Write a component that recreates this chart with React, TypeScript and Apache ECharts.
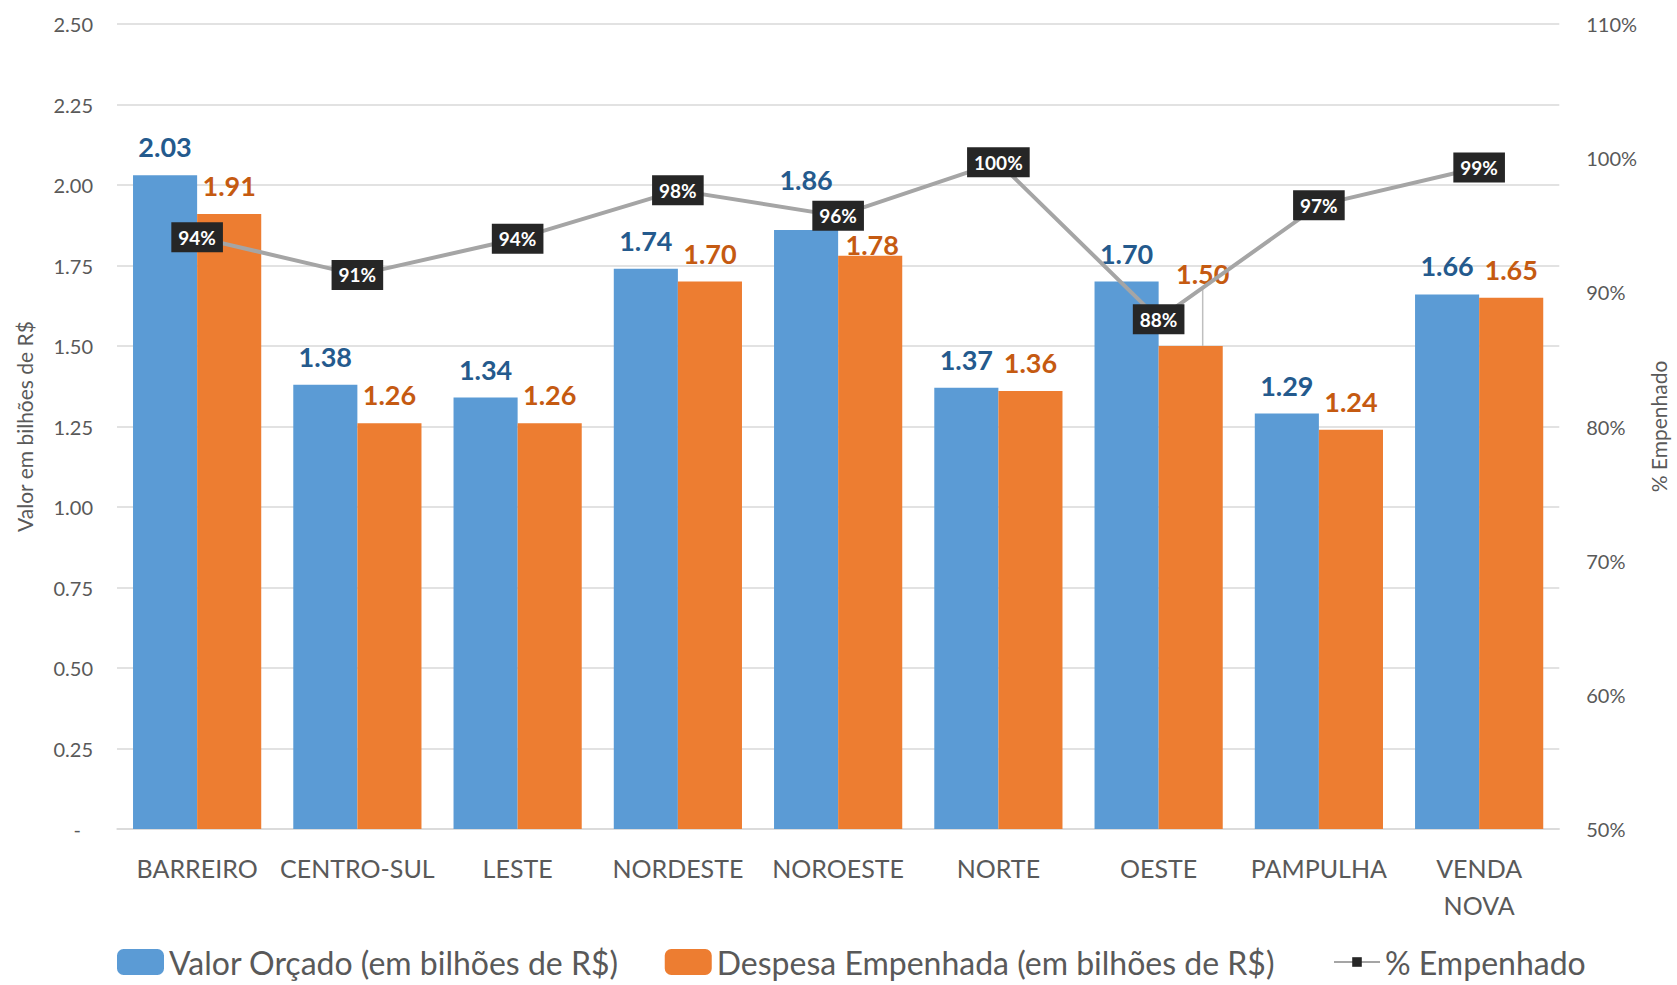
import React, { useEffect, useRef } from "react";
import * as echarts from "echarts";

const categories = ["BARREIRO", "CENTRO-SUL", "LESTE", "NORDESTE", "NOROESTE", "NORTE", "OESTE", "PAMPULHA", "VENDA\nNOVA"];
const valorOrcado = [2.03, 1.38, 1.34, 1.74, 1.86, 1.37, 1.70, 1.29, 1.66];
const despesaEmpenhada = [1.91, 1.26, 1.26, 1.70, 1.78, 1.36, 1.50, 1.24, 1.65];
const pctEmpenhado = [94.1, 91.3, 94.0, 97.6, 95.7, 99.7, 88.0, 96.5, 99.3];
const seriesNames = ["Valor Orçado (em bilhões de R$)", "Despesa Empenhada (em bilhões de R$)", "% Empenhado"];

const FONT = "Lato, 'Open Sans', sans-serif";
const GRAY = "#595959";

export default function App() {
  const ref = useRef<HTMLDivElement>(null);
  useEffect(() => {
    if (!ref.current) return;
    const chart = echarts.init(ref.current, undefined, { renderer: "svg" });
    const legendText = { fontSize: 32, color: GRAY, fontFamily: FONT };
    const option: any = {
      animation: false,
      backgroundColor: "#ffffff",
      textStyle: { fontFamily: FONT },
      grid: { left: 117, right: 95, top: 24, bottom: 156 },
      legend: [
        {
          bottom: 2,
          left: 112,
          itemWidth: 47,
          itemHeight: 26,
          itemGap: 46,
          textStyle: legendText,
          data: [seriesNames[0], seriesNames[1]],
        },
        {
          bottom: 2,
          left: 1328,
          itemWidth: 46,
          itemHeight: 12,
          textStyle: legendText,
          data: [seriesNames[2]],
        },
      ],
      xAxis: {
        type: "category",
        data: categories,
        axisLine: { lineStyle: { color: "#d9d9d9", width: 1.5 } },
        axisTick: { show: false },
        axisLabel: { color: GRAY, fontSize: 25, margin: 20, lineHeight: 37, fontFamily: FONT, interval: 0 },
      },
      yAxis: [
        {
          type: "value",
          min: 0,
          max: 2.5,
          interval: 0.25,
          name: "Valor em bilhões de R$",
          nameLocation: "middle",
          nameRotate: 90,
          nameGap: 82,
          nameTextStyle: { fontSize: 21, color: GRAY, fontFamily: FONT },
          axisLine: { show: false },
          axisTick: { show: false },
          splitLine: { lineStyle: { color: "#d9d9d9", width: 1.5 } },
          axisLabel: {
            color: GRAY,
            fontSize: 20,
            margin: 24,
            fontFamily: FONT,
            formatter: (v: number) => (v === 0 ? "{d|-}" : v.toFixed(2)),
            rich: { d: { color: GRAY, fontSize: 20, padding: [0, 12, 0, 0] } },
          },
        },
        {
          type: "value",
          min: 50,
          max: 110,
          interval: 10,
          name: "% Empenhado",
          nameLocation: "middle",
          nameRotate: 90,
          nameGap: 87,
          nameTextStyle: { fontSize: 21, color: GRAY, fontFamily: FONT },
          axisLine: { show: false },
          axisTick: { show: false },
          splitLine: { show: false },
          axisLabel: { color: GRAY, fontSize: 20, margin: 27, fontFamily: FONT, formatter: (v: number) => v + "%" },
        },
      ],
      series: [
        {
          name: seriesNames[0],
          type: "bar",
          data: valorOrcado,
          barGap: "0%",
          barCategoryGap: "20%",
          itemStyle: { color: "#5B9BD5" },
          label: {
            show: true,
            position: "top",
            distance: 15,
            color: "#245A8D",
            fontWeight: "bold",
            fontSize: 27,
            fontFamily: FONT,
            formatter: (p: any) => p.value.toFixed(2),
          },
          labelLayout: (p: any) => (p.dataIndex === 4 ? { dy: -22 } : {}),
        },
        {
          name: seriesNames[1],
          type: "bar",
          data: despesaEmpenhada.map((v, i) =>
            i === 6 ? { value: v, labelLine: { show: true, lineStyle: { color: "#bfbfbf", width: 1.5 } } } : v
          ),
          itemStyle: { color: "#ED7D31" },
          label: {
            show: true,
            position: "top",
            distance: 15,
            color: "#C55A11",
            fontWeight: "bold",
            fontSize: 27,
            fontFamily: FONT,
            formatter: (p: any) => p.value.toFixed(2),
          },
          labelLayout: (p: any) =>
            p.dataIndex === 6 ? { dy: -44, dx: 12 } : p.dataIndex === 4 ? { dy: 17, dx: 2 } : {},
        },
        {
          name: seriesNames[2],
          type: "line",
          yAxisIndex: 1,
          data: pctEmpenhado,
          z: 5,
          symbol: "rect",
          symbolSize: 10,
          itemStyle: { color: "#262626" },
          lineStyle: { color: "#A5A5A5", width: 4 },
          label: {
            show: true,
            position: "inside",
            color: "#ffffff",
            fontWeight: "bold",
            fontSize: 19,
            fontFamily: FONT,
            backgroundColor: "#262626",
            padding: [6, 7, 5, 7],
            formatter: (p: any) => Math.round(p.value) + "%",
          },
        },
      ],
    };
    chart.setOption(option);
    return () => chart.dispose();
  }, []);
  return <div ref={ref} style={{ position: "fixed", left: 0, top: 0, width: "1677px", height: "985px" }} />;
}
